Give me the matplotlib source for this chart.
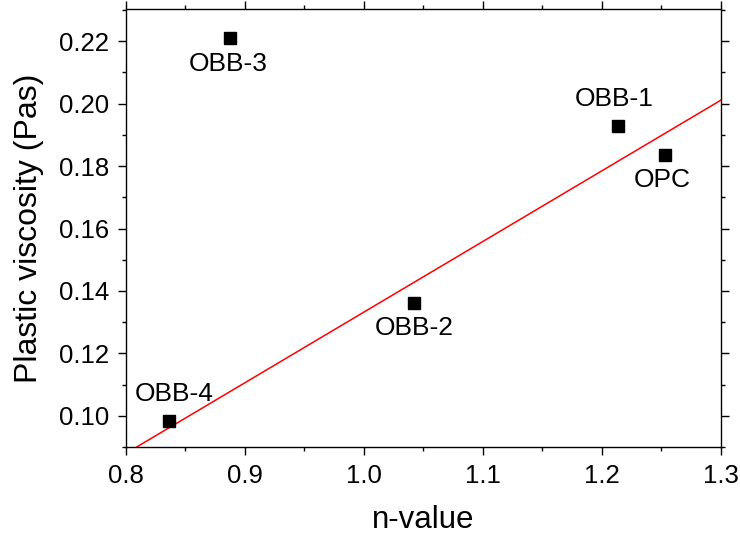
import numpy as np
import matplotlib
matplotlib.use('Agg')
import matplotlib.pyplot as plt
from matplotlib.ticker import MultipleLocator

plt.rcParams['font.family'] = ['Liberation Sans', 'DejaVu Sans']

# samples: n-value vs plastic viscosity
names = ['OPC', 'OBB-1', 'OBB-2', 'OBB-3', 'OBB-4']
n_value = [1.2535, 1.214, 1.042, 0.8874, 0.8364]
viscosity = [0.1835, 0.1930, 0.1362, 0.2211, 0.0984]
# label offsets (points) relative to each marker
offsets = [(-2, -18), (-3, 19), (0, -18), (-1, -19), (4, 19)]

# linear fit without OBB-3
fit_mask = np.array([n != 'OBB-3' for n in names])
x = np.array(n_value)
y = np.array(viscosity)
slope, intercept = np.polyfit(x[fit_mask], y[fit_mask], 1)

fig = plt.figure(figsize=(7.4, 5.36), dpi=100)
ax = fig.add_axes([0.170, 0.166, 0.804, 0.817])

xf = np.array([0.8, 1.3])
ax.plot(xf, slope * xf + intercept, color='red', lw=1.1)
ax.plot(x, y, 's', color='black', markersize=9)

for name, xi, yi, off in zip(names, x, y, offsets):
    ax.annotate(name, (xi, yi), xytext=off, textcoords='offset points',
                ha='center', va='center', fontsize=19)

ax.set_xlim(0.8, 1.3)
ax.set_ylim(0.09, 0.2303)
ax.xaxis.set_major_locator(MultipleLocator(0.1))
ax.xaxis.set_minor_locator(MultipleLocator(0.05))
ax.yaxis.set_major_locator(MultipleLocator(0.02))
ax.yaxis.set_minor_locator(MultipleLocator(0.01))
ax.xaxis.set_major_formatter(plt.FormatStrFormatter('%.1f'))
ax.yaxis.set_major_formatter(plt.FormatStrFormatter('%.2f'))

ax.tick_params(which='both', direction='out', top=True, right=True,
               width=1.0, labelsize=18.5, pad=6)
ax.tick_params(which='major', length=6)
ax.tick_params(which='minor', length=3)
for s in ax.spines.values():
    s.set_linewidth(1.0)

ax.set_xlabel('n-value', fontsize=22.5, labelpad=12.5)
ax.set_ylabel('Plastic viscosity (Pas)', fontsize=23, labelpad=11)

fig.savefig('out.png', dpi=100)
